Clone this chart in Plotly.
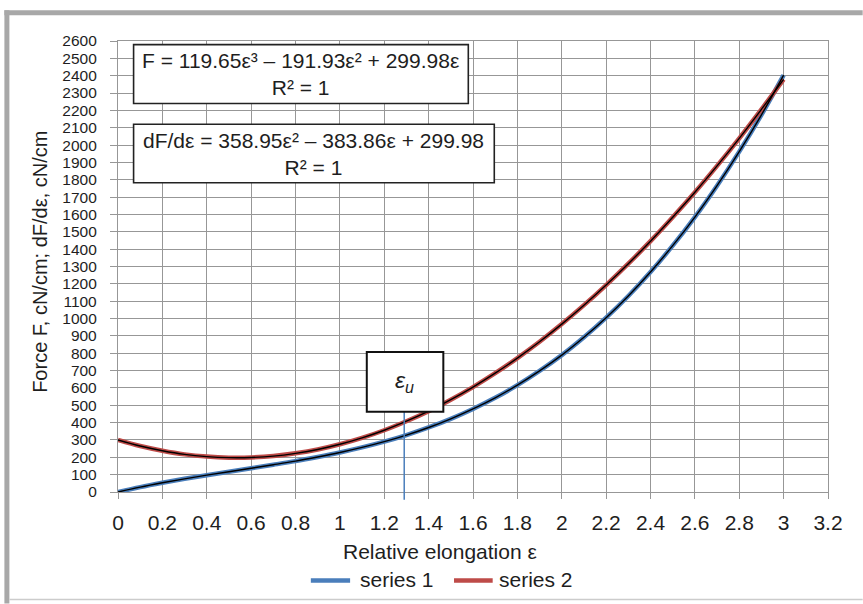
import plotly.graph_objects as go

# ---- data ----
eps = [0.0, 0.1, 0.2, 0.3, 0.4, 0.5, 0.6, 0.7, 0.8, 0.9, 1.0,
       1.1, 1.2, 1.3, 1.4, 1.5, 1.6, 1.7, 1.8, 1.9, 2.0,
       2.1, 2.2, 2.3, 2.4, 2.5, 2.6, 2.7, 2.8, 2.9, 3.0]
series1 = [0, 28, 53, 76, 97, 117, 137, 157, 178, 202, 228,
           257, 290, 328, 372, 422, 479, 543, 616, 698, 789,
           892, 1005, 1130, 1268, 1420, 1585, 1766, 1962, 2174, 2403]
series2 = [300, 265, 238, 217, 204, 198, 199, 207, 223, 245, 275,
           312, 356, 408, 466, 532, 605, 685, 772, 866, 968,
           1077, 1193, 1316, 1446, 1584, 1728, 1880, 2039, 2206, 2379]
series_names = ["series 1", "series 2"]
eps_u = 1.29
x_ticks = [0, 0.2, 0.4, 0.6, 0.8, 1, 1.2, 1.4, 1.6, 1.8, 2, 2.2, 2.4, 2.6, 2.8, 3, 3.2]
y_ticks = list(range(0, 2700, 100))
eq1 = ["F = 119.65ε³ – 191.93ε² + 299.98ε", "R² = 1"]
eq2 = ["dF/dε = 358.95ε² – 383.86ε + 299.98", "R² = 1"]

BLUE = "#4A7EBB"
RED = "#BE4B48"
GRID = "#979797"
TXT = "#1e1e1e"
FONT = "Liberation Sans, Arial, sans-serif"
FS = 21

# plot area in pixels
WIDTH, HEIGHT = 863, 604
L, R, T, B = 117.7, 828.3, 40.7, 492.3
PW, PH = R - L, B - T


def px(x):
    return (x - L) / PW


def py(y):
    return (B - y) / PH


fig = go.Figure()
fig.add_trace(go.Scatter(x=eps, y=series1, mode="lines", name=series_names[0],
                         line=dict(color=BLUE, width=4.5, shape="spline")))
fig.add_trace(go.Scatter(x=eps, y=series2, mode="lines", name=series_names[1],
                         line=dict(color=RED, width=4.5, shape="spline")))
fig.add_trace(go.Scatter(x=eps, y=series1, mode="lines", showlegend=False,
                         hoverinfo="skip", line=dict(color="black", width=1.4, shape="spline")))
fig.add_trace(go.Scatter(x=eps, y=series2, mode="lines", showlegend=False,
                         hoverinfo="skip", line=dict(color="black", width=1.4, shape="spline")))

shapes = []
# outer frame decorations
shapes.append(dict(type="line", xref="paper", yref="paper", x0=px(6.5), x1=px(6.5),
                   y0=py(10), y1=py(604), line=dict(color="#a8a8a8", width=5), layer="above"))
shapes.append(dict(type="line", xref="paper", yref="paper", x0=px(4), x1=px(863),
                   y0=py(12.5), y1=py(12.5), line=dict(color="#a8a8a8", width=5), layer="above"))
shapes.append(dict(type="line", xref="paper", yref="paper", x0=px(9), x1=px(863),
                   y0=py(600), y1=py(600), line=dict(color="#cccccc", width=1.5), layer="above"))

# equation boxes
for (x0, x1, y0, y1) in [(133.3, 468.3, 44.3, 103.3), (133.3, 494.3, 124, 182.7)]:
    shapes.append(dict(type="rect", xref="paper", yref="paper", x0=px(x0), x1=px(x1),
                       y0=py(y1), y1=py(y0), fillcolor="white",
                       line=dict(color="#222222", width=1.6), layer="above"))

# eps_u marker line and box
x_eps = eps_u / x_ticks[-1]
shapes.append(dict(type="line", xref="paper", yref="paper", x0=x_eps, x1=x_eps,
                   y0=py(500), y1=py(412), line=dict(color=BLUE, width=1.5), layer="above"))
shapes.append(dict(type="rect", xref="paper", yref="paper", x0=px(366.7), x1=px(443.3),
                   y0=py(412), y1=py(352), fillcolor="white",
                   line=dict(color="#111111", width=2), layer="above"))

# custom legend
legend_items = [(series_names[0], BLUE, 310.7, 350.0, 358.0),
                (series_names[1], RED, 454.0, 492.7, 497.0)]
for name, col, lx0, lx1, tx in legend_items:
    shapes.append(dict(type="line", xref="paper", yref="paper", x0=px(lx0), x1=px(lx1),
                       y0=py(581), y1=py(581), line=dict(color=col, width=4.5), layer="above"))

annotations = [
    dict(xref="paper", yref="paper", x=px(300.8), y=py(74), text="<br>".join(eq1),
         showarrow=False, align="center", xanchor="center", yanchor="middle",
         font=dict(family=FONT, size=FS, color=TXT)),
    dict(xref="paper", yref="paper", x=px(313.8), y=py(153.5), text="<br>".join(eq2),
         showarrow=False, align="center", xanchor="center", yanchor="middle",
         font=dict(family=FONT, size=FS, color=TXT)),
    dict(xref="paper", yref="paper", x=px(404), y=py(382), text="<i>ε<sub>u</sub></i>",
         showarrow=False, xanchor="center", yanchor="middle",
         font=dict(family=FONT, size=23, color=TXT)),
    dict(xref="paper", yref="paper", x=px(39.5), y=py(262),
         text="Force F, cN/cm; dF/dε, cN/cm", textangle=-90, showarrow=False,
         xanchor="center", yanchor="middle", font=dict(family=FONT, size=20, color=TXT)),
    dict(xref="paper", yref="paper", x=px(439.5), y=py(552),
         text="Relative elongation ε", showarrow=False,
         xanchor="center", yanchor="middle", font=dict(family=FONT, size=FS, color=TXT)),
]
for name, col, lx0, lx1, tx in legend_items:
    annotations.append(dict(xref="paper", yref="paper", x=px(tx), y=py(580), text=name,
                            showarrow=False, xanchor="left", yanchor="middle",
                            font=dict(family=FONT, size=FS, color=TXT)))

fig.update_layout(
    width=WIDTH, height=HEIGHT,
    margin=dict(l=L, r=WIDTH - R, t=T, b=HEIGHT - B, autoexpand=False),
    paper_bgcolor="white", plot_bgcolor="white",
    font=dict(family=FONT, color=TXT),
    showlegend=False,
    shapes=shapes, annotations=annotations,
)
fig.update_xaxes(range=[0, 3.2], tickvals=x_ticks, ticktext=[f"{v:g}" for v in x_ticks],
                 showgrid=True, gridcolor=GRID, gridwidth=1.3, zeroline=False,
                 showline=True, linecolor=GRID, linewidth=1.3, mirror=True,
                 ticks="outside", ticklen=6, tickcolor=GRID, tickwidth=1.3,
                 ticklabelstandoff=6,
                 tickfont=dict(family=FONT, size=FS, color=TXT), fixedrange=True)
fig.update_yaxes(range=[0, 2600], tickvals=y_ticks, ticktext=[str(v) for v in y_ticks],
                 showgrid=True, gridcolor=GRID, gridwidth=1.3, zeroline=False,
                 showline=True, linecolor=GRID, linewidth=1.3, mirror=True,
                 ticks="outside", ticklen=7, tickcolor=GRID, tickwidth=1.3,
                 ticklabelstandoff=10,
                 tickfont=dict(family=FONT, size=15.5, color=TXT), fixedrange=True)

fig.write_html("out.html")
